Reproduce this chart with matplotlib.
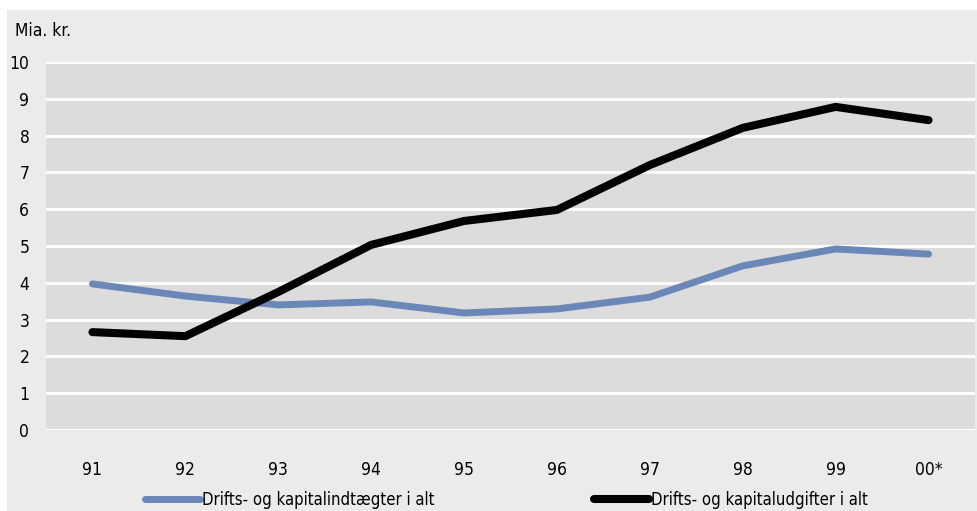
import matplotlib
matplotlib.use("Agg")
import matplotlib.pyplot as plt
from matplotlib.patches import Rectangle

years = ['91', '92', '93', '94', '95', '96', '97', '98', '99', '00*']
indtaegter = [3.97, 3.64, 3.40, 3.48, 3.18, 3.29, 3.61, 4.46, 4.92, 4.78]
udgifter = [2.66, 2.55, 3.75, 5.03, 5.68, 5.98, 7.20, 8.21, 8.78, 8.42]
labels = ['Drifts- og kapitalindtægter i alt', 'Drifts- og kapitaludgifter i alt']

plt.rcParams['font.family'] = ['DejaVu Sans']
plt.rcParams['font.stretch'] = 'condensed'

W, H = 977, 511
fig = plt.figure(figsize=(W / 100, H / 100), dpi=100)
fig.patch.set_facecolor('white')
# grey panel behind everything
fig.patches.append(Rectangle((7 / W, 0), 1 - 7 / W, 1 - 10 / H, transform=fig.transFigure,
                             facecolor='#ebebeb', edgecolor='none', zorder=-10))

ax = fig.add_axes([46 / W, (H - 430) / H, (975 - 46) / W, (430 - 62) / H])
ax.set_facecolor('#dcdcdc')
x = range(len(years))
l1, = ax.plot(x, indtaegter, color='#6b87b8', lw=5, solid_capstyle='round', solid_joinstyle='round',
              zorder=3)
l2, = ax.plot(x, udgifter, color='black', lw=5.8, solid_capstyle='round', solid_joinstyle='round',
              zorder=4)

ax.set_xlim(-0.5, len(years) - 0.5)
ax.set_ylim(0, 10)
ax.set_yticks(range(0, 11))
ax.set_xticks(list(x))
ax.set_xticklabels(years)
ax.grid(axis='y', color='white', lw=2.2)
ax.set_axisbelow(True)
for s in ax.spines.values():
    s.set_visible(False)
ax.tick_params(axis='y', length=0, pad=12, labelsize=12.5)
ax.tick_params(axis='x', length=0, pad=22, labelsize=12.5)

fig.text(15 / W, 1 - 31 / H, 'Mia. kr.', fontsize=12.5, va='center', ha='left')

# two separate legend entries, placed like the reference
for line, lab, x0 in [(l1, labels[0], 145), (l2, labels[1], 594)]:
    lg = fig.legend([line], [lab], loc='center left', bbox_to_anchor=(x0 / W, 1 - 500 / H),
                    frameon=False, fontsize=12, handlelength=3.3, handletextpad=0.1,
                    borderaxespad=0, borderpad=0)

fig.savefig('out.png', dpi=100)
